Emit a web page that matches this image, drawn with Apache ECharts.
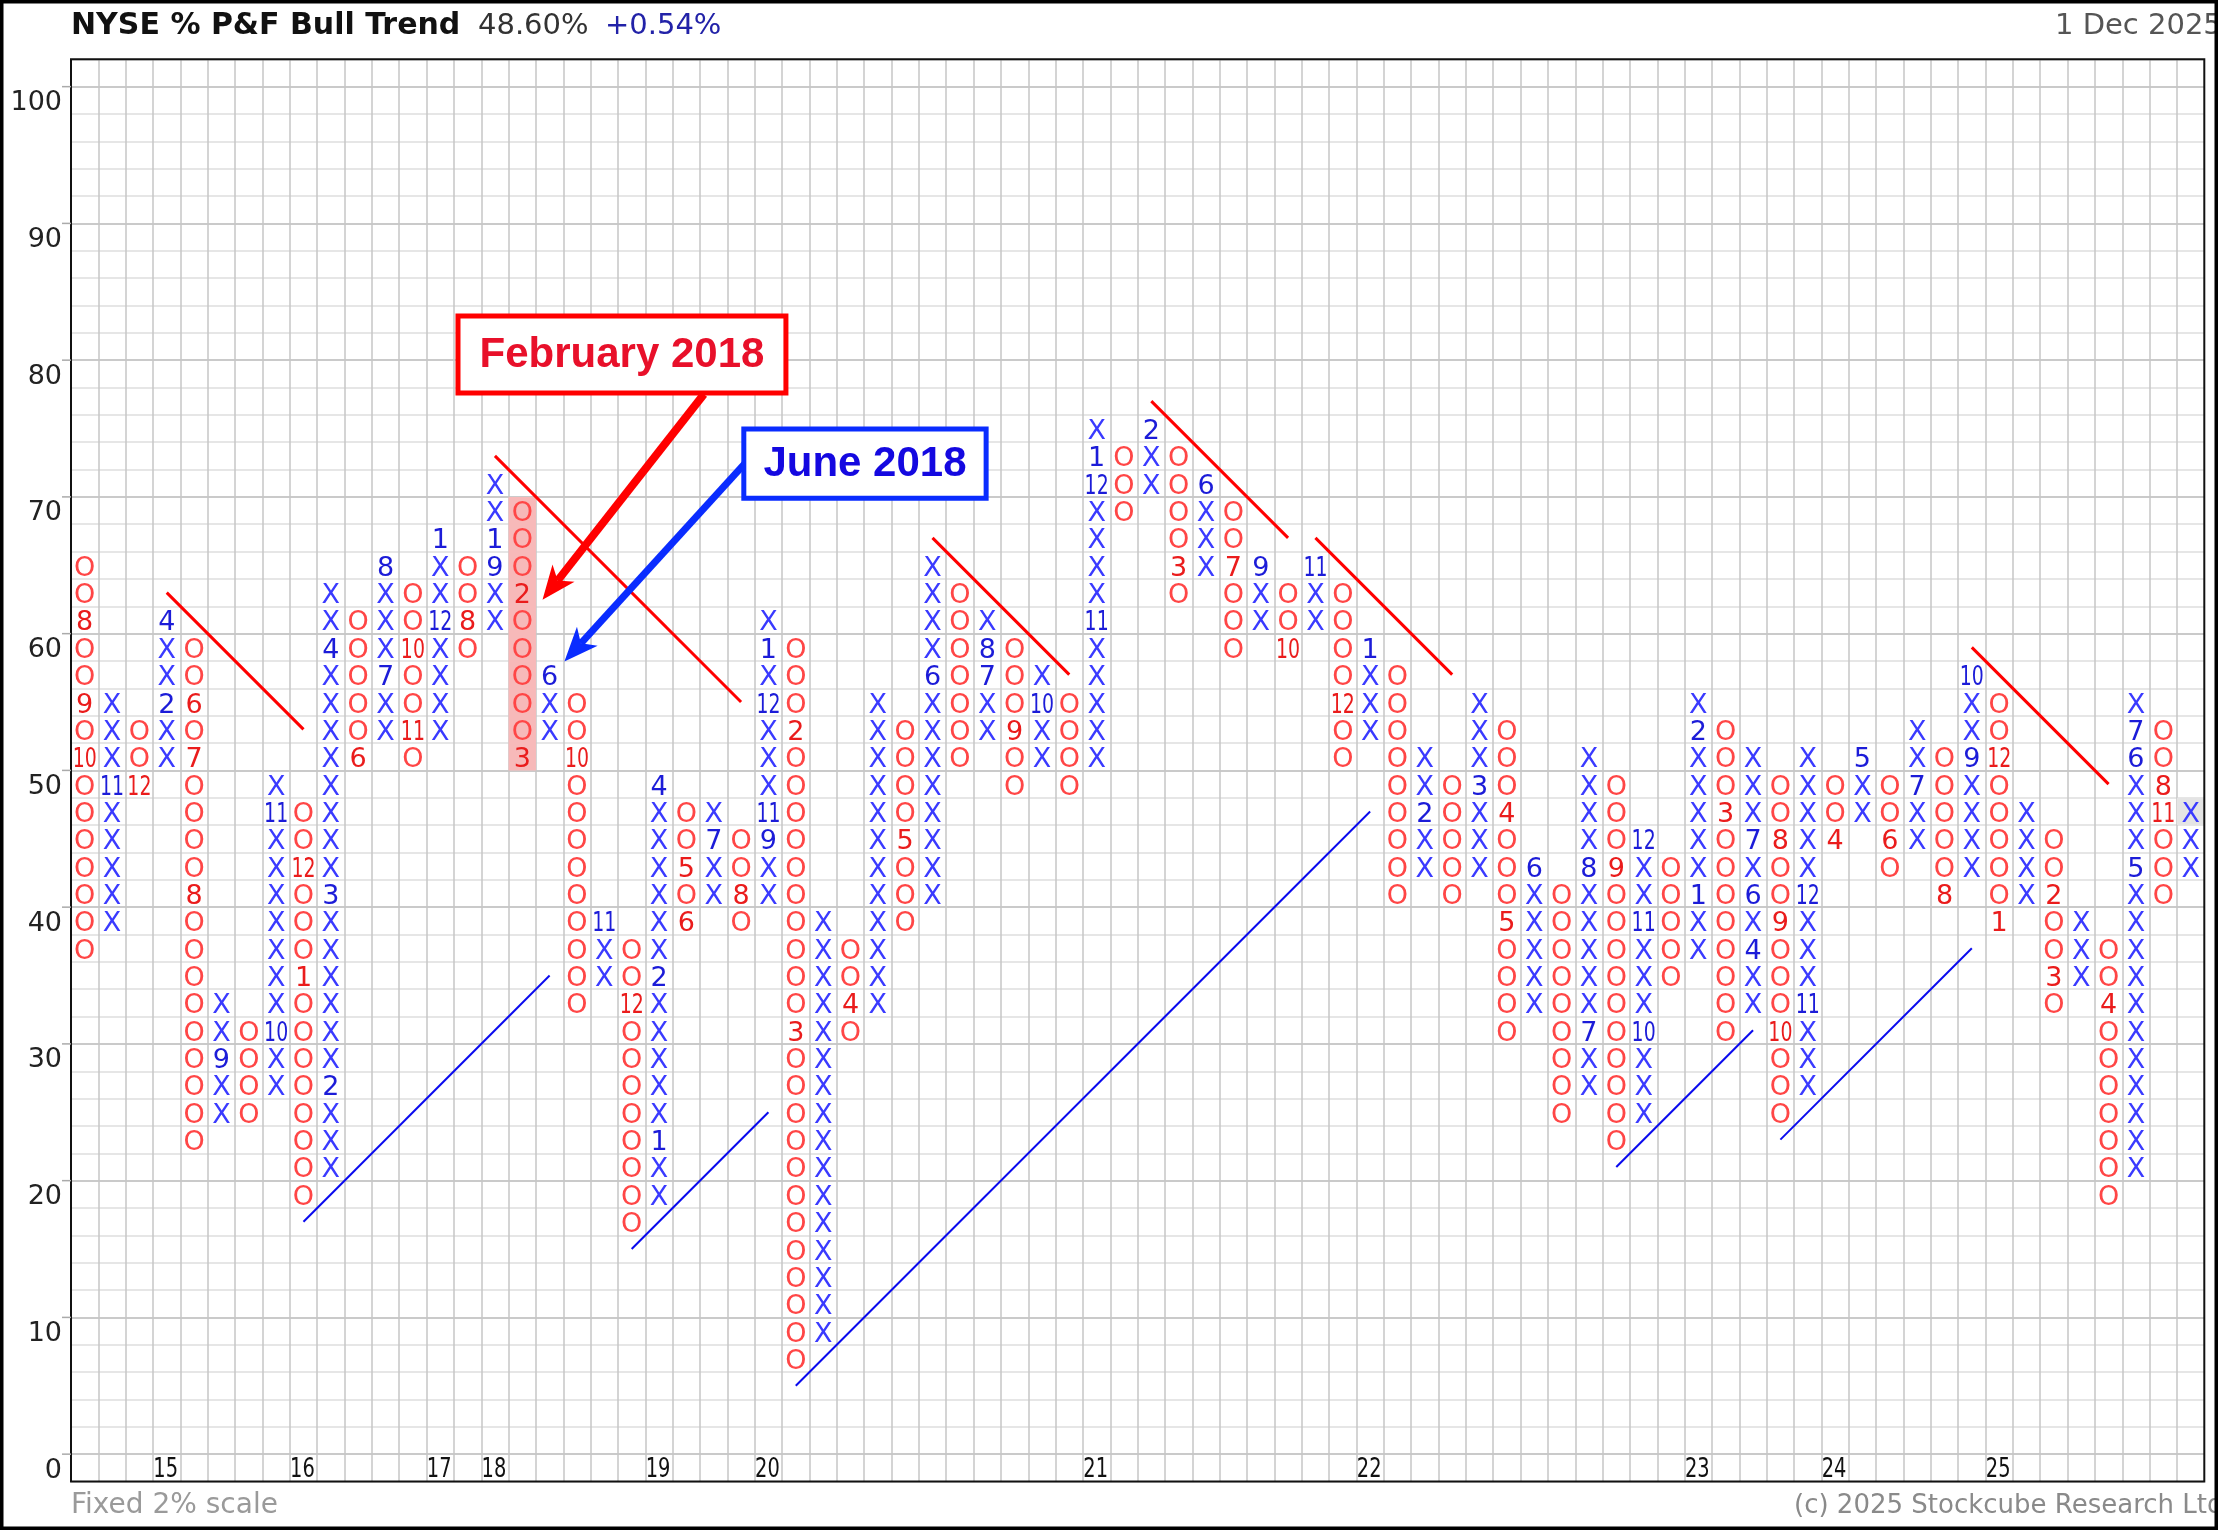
<!DOCTYPE html>
<html><head><meta charset="utf-8">
<script src="https://cdn.jsdelivr.net/npm/echarts@6/dist/echarts.min.js"></script>
<style>html,body{margin:0;padding:0;background:#fff}#main{width:2218px;height:1530px}</style>
</head><body><div id="main"></div>
<script>
// ---- data ----
const BOX = 2;
const colType = ['O','X','O','X','O','X','O','X','O','X','O','X','O','X','O','X','O','X','O','X','O','X','O','X','O','X','O','X','O','X','O','X','O','X','O','X','O','X','O','X','O','X','O','X','O','X','O','X','O','X','O','X','O','X','O','X','O','X','O','X','O','X','O','X','O','X','O','X','O','X','O','X','O','X','O','X','O','X'];
const colHigh = [66,56,54,62,60,34,32,50,48,64,62,66,64,68,66,72,70,58,56,40,38,50,48,48,46,62,60,40,38,56,54,66,64,62,60,58,56,76,74,76,74,72,70,66,64,66,64,60,58,52,50,56,54,44,42,52,50,46,44,56,54,52,50,52,50,52,50,54,52,58,56,48,46,40,38,56,54,48];
const colLow  = [38,40,50,52,24,26,26,28,20,22,52,54,52,54,60,62,52,54,34,36,18,20,40,42,40,42,8,10,32,34,40,42,52,54,50,52,50,52,70,72,64,66,60,62,60,62,52,54,42,44,42,44,32,34,26,28,24,26,36,38,32,34,26,28,46,48,44,46,42,44,40,42,34,36,20,22,42,44];
// [column (1-based), box, month]
const monthMarks = [
 [1,62,'8'],[1,56,'9'],[1,52,'10'],[2,50,'11'],[3,50,'12'],[4,56,'2'],[4,62,'4'],
 [5,56,'6'],[5,52,'7'],[5,42,'8'],[6,30,'9'],[8,32,'10'],[8,48,'11'],[9,44,'12'],[9,36,'1'],
 [10,28,'2'],[10,42,'3'],[10,60,'4'],[11,52,'6'],[12,58,'7'],[12,66,'8'],[13,60,'10'],[13,54,'11'],
 [14,62,'12'],[14,68,'1'],[15,62,'8'],[16,66,'9'],[16,68,'1'],[17,64,'2'],[17,52,'3'],[18,58,'6'],
 [19,52,'10'],[20,40,'11'],[21,34,'12'],[22,24,'1'],[22,36,'2'],[22,50,'4'],[23,44,'5'],[23,40,'6'],
 [24,46,'7'],[25,42,'8'],[26,46,'9'],[26,48,'11'],[26,56,'12'],[26,60,'1'],[27,54,'2'],[27,32,'3'],
 [29,34,'4'],[31,46,'5'],[32,58,'6'],[34,58,'7'],[34,60,'8'],[35,54,'9'],[36,56,'10'],
 [38,62,'11'],[38,72,'12'],[38,74,'1'],[40,76,'2'],[41,66,'3'],[42,72,'6'],[43,66,'7'],[44,66,'9'],
 [45,60,'10'],[46,66,'11'],[47,56,'12'],[48,60,'1'],[50,48,'2'],[52,50,'3'],[53,48,'4'],[53,40,'5'],
 [54,44,'6'],[56,32,'7'],[56,44,'8'],[57,44,'9'],[58,32,'10'],[58,40,'11'],[58,46,'12'],
 [60,42,'1'],[60,54,'2'],[61,48,'3'],[62,38,'4'],[62,42,'6'],[62,46,'7'],[63,46,'8'],[63,40,'9'],[63,32,'10'],
 [64,34,'11'],[64,42,'12'],[65,46,'4'],[66,52,'5'],[67,46,'6'],[68,50,'7'],[69,42,'8'],[70,52,'9'],[70,58,'10'],
 [71,52,'12'],[71,40,'1'],[73,42,'2'],[73,36,'3'],[75,34,'4'],[76,44,'5'],[76,52,'6'],[76,54,'7'],[77,50,'8'],[77,48,'11']
];
const yearCols = [4,9,14,16,22,26,38,48,60,65,71];
const yearText = ['15','16','17','18','19','20','21','22','23','24','25'];
const yTickValues = [0,10,20,30,40,50,60,70,80,90,100];
// trend lines in [column-boundary units, value]
const redTrends = [[[3.5,63],[8.5,53]],[[15.5,73],[24.5,55]],[[31.5,67],[36.5,57]],[[39.5,77],[44.5,67]],[[45.5,67],[50.5,57]],[[69.5,59],[74.5,49]]];
const blueTrends = [[[8.5,17],[17.5,35]],[[20.5,15],[25.5,25]],[[26.5,5],[47.5,47]],[[56.5,21],[61.5,31]],[[62.5,23],[69.5,37]]];
// highlighted cells: [column, lowBox, highBox, colour]
const highlights = [[17,52,70,'#f7b9b9'],[78,48,48,'#e4e4e4']];
// annotations
const annoText = ['February 2018','June 2018'];
const annoBox = [[14.15,26.14,77.6,83.23],[24.6,33.46,69.9,74.96]];
const annoArrow = [[[23.14,77.5],[17.24,62.47]],[[24.7,72.58],[18.04,57.97]]];
const annoColor = ['#ff0000','#0a2cff'];
const annoTextColor = ['#e8102a','#1408e0'];

// ---- drawing ----
const FONT = '"DejaVu Sans"';
const X_COLOR = '#3a3aff', O_COLOR = '#ff4646', XM_COLOR = '#1c1cd8', OM_COLOR = '#ea1c1c';
const monthMap = {};
monthMarks.forEach(m => { monthMap[m[0] + '_' + m[1]] = m[2]; });

function renderColumn(params, api) {
  const c = api.value(0), lo = api.value(1), hi = api.value(2);
  const isX = colType[c - 1] === 'X';
  const children = [];
  for (let b = lo; b <= hi; b += BOX) {
    const p = api.coord([c - 0.5, b - 1]);
    const m = monthMap[c + '_' + b];
    const txt = m || (isX ? 'X' : 'O');
    children.push({
      type: 'text', x: p[0], y: p[1] + 3.5, scaleX: txt.length > 1 ? 0.7 : 1,
      style: { text: txt, x: 0, y: 0, align: 'center', verticalAlign: 'middle',
        textAlign: 'center', textVerticalAlign: 'middle',
        font: '27px ' + FONT, fill: m ? (isX ? XM_COLOR : OM_COLOR) : (isX ? X_COLOR : O_COLOR) }
    });
  }
  return { type: 'group', children };
}

function renderHighlight(params, api) {
  const h = highlights[params.dataIndex];
  const p1 = api.coord([h[0] - 1, h[2]]);
  const p2 = api.coord([h[0], h[1] - BOX]);
  return { type: 'rect', shape: { x: p1[0], y: p1[1], width: p2[0] - p1[0], height: p2[1] - p1[1] }, style: { fill: h[3] } };
}

function renderYears(params, api) {
  const i = params.dataIndex;
  const p = api.coord([yearCols[i] - 0.5, -1]);
  return { type: 'text', x: p[0] - 1, y: p[1] + 2, scaleX: 0.72,
    style: { text: yearText[i], x: 0, y: 0, align: 'center', verticalAlign: 'middle', textAlign: 'center', textVerticalAlign: 'middle', font: '27px ' + FONT, fill: '#111' } };
}

function renderFrame(params, api) {
  const cs = params.coordSys;
  const children = [{ type: 'rect', shape: { x: cs.x, y: cs.y, width: cs.width, height: cs.height }, style: { fill: 'none', stroke: '#111', lineWidth: 2 } }];
  yTickValues.forEach(v => {
    const p = api.coord([0, v]);
    children.push({ type: 'line', shape: { x1: cs.x - 9, y1: p[1], x2: cs.x, y2: p[1] }, style: { stroke: '#aaa', lineWidth: 1.5 } });
  });
  return { type: 'group', children };
}

function renderAnno(params, api) {
  const i = params.dataIndex;
  const b = annoBox[i];
  const p1 = api.coord([b[0], b[3]]), p2 = api.coord([b[1], b[2]]);
  const a0 = api.coord(annoArrow[i][0]), a1 = api.coord(annoArrow[i][1]);
  const dx = a1[0] - a0[0], dy = a1[1] - a0[1], len = Math.hypot(dx, dy);
  const ux = dx / len, uy = dy / len, nx = -uy, ny = ux;
  const L = 34, W = 14;
  const B = [a1[0] - ux * L, a1[1] - uy * L];
  const N = [a1[0] - ux * L * 0.72, a1[1] - uy * L * 0.72];
  const c = annoColor[i];
  return { type: 'group', children: [
    { type: 'line', shape: { x1: a0[0], y1: a0[1], x2: N[0], y2: N[1] }, style: { stroke: c, lineWidth: i === 0 ? 8 : 7 } },
    { type: 'polygon', shape: { points: [a1, [B[0] + nx * W, B[1] + ny * W], N, [B[0] - nx * W, B[1] - ny * W]] }, style: { fill: c } },
    { type: 'rect', shape: { x: p1[0], y: p1[1], width: p2[0] - p1[0], height: p2[1] - p1[1] }, style: { fill: '#fff', stroke: c, lineWidth: 5 } },
    { type: 'text', x: (p1[0] + p2[0]) / 2, y: (p1[1] + p2[1]) / 2 + 1,
      style: { text: annoText[i], x: 0, y: 0, align: 'center', verticalAlign: 'middle', textAlign: 'center', textVerticalAlign: 'middle', font: 'bold 42px "Liberation Sans"', fill: annoTextColor[i] } }
  ] };
}

const trendSeries = [];
redTrends.forEach(t => trendSeries.push({ type: 'line', data: t, showSymbol: false, symbol: 'none', silent: true, z: 4, lineStyle: { color: '#ff0000', width: 3 } }));
blueTrends.forEach(t => trendSeries.push({ type: 'line', data: t, showSymbol: false, symbol: 'none', silent: true, z: 4, lineStyle: { color: '#0a0aee', width: 2 } }));

const chart = echarts.init(document.getElementById('main'), null, { renderer: 'canvas' });
const MINOR = '#dedede', MAJOR = '#b9b9b9';
chart.setOption({
  animation: false,
  backgroundColor: '#fff',
  grid: { left: 71, top: 59.3, width: 2133.3, height: 1422.2, containLabel: false },
  xAxis: { type: 'value', min: 0, max: 78, interval: 1,
    axisLine: { show: false }, axisTick: { show: false }, axisLabel: { show: false },
    splitLine: { show: true, showMinLine: false, showMaxLine: false, lineStyle: { color: '#c6c6c6', width: 1.5 } } },
  yAxis: { type: 'value', min: -2, max: 102, interval: 2,
    axisLine: { show: false }, axisTick: { show: false },
    axisLabel: { formatter: v => (v % 10 === 0 && v >= 0 && v <= 100) ? String(v) : '', fontSize: 27, fontFamily: 'DejaVu Sans', color: '#222', align: 'right', margin: 9, verticalAlign: 'top', lineHeight: 33 },
    splitLine: { show: true, lineStyle: { color: [MINOR, MAJOR, MINOR, MINOR, MINOR], width: 1.5 } } },
  graphic: [
    { type: 'text', x: 71, y: 26, style: { text: 'NYSE % P&F Bull Trend', font: 'bold 30px ' + FONT, fill: '#111', verticalAlign: 'middle', textVerticalAlign: 'middle' } },
    { type: 'text', x: 478, y: 26, style: { text: '48.60%', font: '29px ' + FONT, fill: '#333', verticalAlign: 'middle', textVerticalAlign: 'middle' } },
    { type: 'text', x: 605, y: 26, style: { text: '+0.54%', font: '29px ' + FONT, fill: '#2222a8', verticalAlign: 'middle', textVerticalAlign: 'middle' } },
    { type: 'text', x: 2055, y: 26, style: { text: '1 Dec 2025', font: '29px ' + FONT, fill: '#555', verticalAlign: 'middle', textVerticalAlign: 'middle' } },
    { type: 'text', x: 71, y: 1506, style: { text: 'Fixed 2% scale', font: '28px ' + FONT, fill: '#9a9a9a', verticalAlign: 'middle', textVerticalAlign: 'middle' } },
    { type: 'text', x: 1794, y: 1506, style: { text: '(c) 2025 Stockcube Research Ltd', font: '26px ' + FONT, fill: '#8a8a8a', verticalAlign: 'middle', textVerticalAlign: 'middle' } },
    { type: 'rect', z: 100, shape: { x: 0, y: 0, width: 2218, height: 1530 }, style: { fill: 'none', stroke: '#000', lineWidth: 7 } }
  ],
  series: [
    { type: 'custom', name: 'highlight', z: 1, silent: true, renderItem: renderHighlight, data: highlights.map(h => [h[0] - 0.5, h[2]]) },
    { type: 'custom', name: 'columns', z: 3, silent: true, renderItem: renderColumn, data: colHigh.map((h, i) => [i + 1, colLow[i], h]),
      encode: { x: 0, y: 2 } },
    { type: 'custom', name: 'years', z: 3, silent: true, renderItem: renderYears, data: yearCols.map(c => [c - 0.5, -1]) },
    ...trendSeries,
    { type: 'custom', name: 'frame', z: 5, silent: true, clip: false, renderItem: renderFrame, data: [[0, 0]] },
    { type: 'custom', name: 'annotations', z: 6, silent: true, renderItem: renderAnno, data: annoBox.map(b => [b[0], b[2]]) }
  ]
});
</script></body></html>
